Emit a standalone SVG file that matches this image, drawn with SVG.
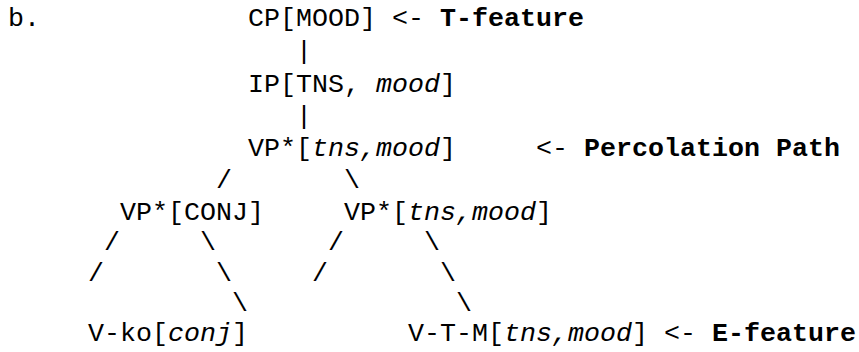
<svg xmlns="http://www.w3.org/2000/svg" width="859" height="352" viewBox="0 0 859 352">
<style>
text{font-family:"Liberation Mono","Courier New",monospace;font-size:26.67px;fill:#000}
.i{font-style:italic}
.b{font-weight:bold}
</style>
<rect width="859" height="352" fill="#fff"/>
<text id="label-b" x="8" y="26">b.</text>
<g id="cp">
<text x="248" y="26">CP[MOOD]</text>
<text x="392" y="26">&lt;-</text>
<text x="440" y="26" class="b">T-feature</text>
</g>
<g id="ip">
<text x="248" y="92">IP[TNS, <tspan class="i">mood</tspan>]</text>
</g>
<g id="vp-top">
<text x="248" y="156">VP*[<tspan class="i">tns,mood</tspan>]</text>
<text x="536" y="156">&lt;-</text>
<text x="584" y="156" class="b">Percolation Path</text>
</g>
<g id="vp-conj">
<text x="120" y="220">VP*[CONJ]</text>
</g>
<g id="vp-right">
<text x="344" y="220">VP*[<tspan class="i">tns,mood</tspan>]</text>
</g>
<g id="v-ko">
<text x="88" y="341">V-ko[<tspan class="i">conj</tspan>]</text>
</g>
<g id="v-t-m">
<text x="408" y="341">V-T-M[<tspan class="i">tns,mood</tspan>]</text>
<text x="664" y="341">&lt;-</text>
<text x="712" y="341" class="b">E-feature</text>
</g>
<g id="connectors">
<text x="296" y="59">|</text>
<text x="296" y="124">|</text>
<text x="216" y="188">/</text>
<text x="344" y="188">\</text>
<text x="104" y="250">/</text>
<text x="200" y="250">\</text>
<text x="328" y="250">/</text>
<text x="424" y="250">\</text>
<text x="88" y="281">/</text>
<text x="216" y="281">\</text>
<text x="312" y="281">/</text>
<text x="440" y="281">\</text>
<text x="232" y="311">\</text>
<text x="456" y="311">\</text>
</g>
</svg>
